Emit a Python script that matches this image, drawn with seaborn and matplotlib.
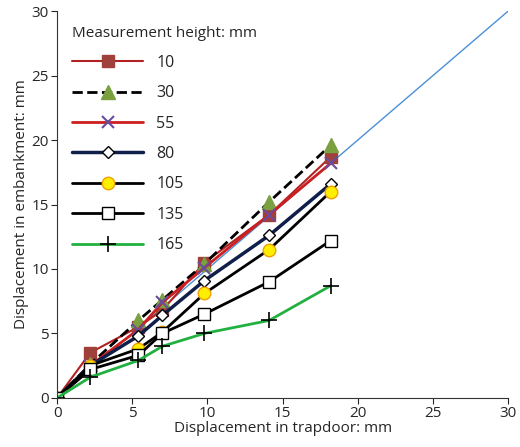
import matplotlib
matplotlib.use("Agg")
import matplotlib.pyplot as plt
import seaborn as sns
import pandas as pd

sns.set_style("white")
plt.rcParams['font.family'] = ['Open Sans', 'DejaVu Sans']

x = [0, 2.2, 5.4, 7.0, 9.8, 14.1, 18.2]
s10 = [0, 3.5, 5.5, 6.8, 10.5, 14.2, 18.7]
s30 = [0, 2.6, 6.0, 7.6, 10.4, 15.2, 19.6]
s55 = [0, 2.5, 5.3, 7.4, 10.1, 14.2, 18.2]
s80 = [0, 2.5, 4.8, 6.4, 9.1, 12.6, 16.6]
s105 = [0, 2.5, 3.8, 5.1, 8.1, 11.5, 16.0]
s135 = [0, 2.2, 3.3, 5.0, 6.5, 9.0, 12.2]
s165 = [0, 1.6, 2.9, 4.0, 5.0, 6.0, 8.7]
labels = ["10", "30", "55", "80", "105", "135", "165"]
ref_x = [0, 30]

series = [s10, s30, s55, s80, s105, s135, s165]
styles = [
    dict(color="#b22222", marker="s", mfc="#a0403a", mec="#a0403a", ms=9, ls="-", lw=1.5),
    dict(color="black", marker="^", mfc="#7aa040", mec="#7aa040", ms=10, ls="--", lw=2),
    dict(color="#cc1f1f", marker="x", mfc="none", mec="#6a4c9c", ms=9, mew=1.5, ls="-", lw=2),
    dict(color="#0f1f4a", marker="D", mfc="white", mec="black", ms=6, ls="-", lw=2.5),
    dict(color="black", marker="o", mfc="#ffee00", mec="#f0a000", ms=9, ls="-", lw=2),
    dict(color="black", marker="s", mfc="white", mec="black", ms=9, ls="-", lw=2),
    dict(color="#22b040", marker="+", mfc="none", mec="black", ms=12, mew=1.2, ls="-", lw=2),
]

fig, ax = plt.subplots(figsize=(5.2, 4.47), dpi=100)
sns.lineplot(x=ref_x, y=ref_x, ax=ax, color="#4a90d9", lw=1, legend=False)
for lab, s, st in zip(labels, series, styles):
    ax.plot(x, s, label=lab, **st)

ax.set_xlim(0, 30)
ax.set_ylim(0, 30)
ax.set_xticks(range(0, 31, 5))
ax.set_yticks(range(0, 31, 5))
ax.tick_params(labelsize=11, direction="out", length=4, left=True, bottom=True, pad=2)
for sp in ["top", "right"]:
    ax.spines[sp].set_visible(False)
for sp in ["left", "bottom"]:
    ax.spines[sp].set_color("#333333")
ax.set_xlabel("Displacement in trapdoor: mm", fontsize=11, labelpad=0)
ax.set_ylabel("Displacement in embankment: mm", fontsize=11, labelpad=2)
leg = ax.legend(title="Measurement height: mm", loc="upper left", frameon=False,
                fontsize=11.5, title_fontsize=11, handlelength=4.5, labelspacing=0.9,
                bbox_to_anchor=(0.0, 1.0))
leg._legend_box.align = "left"
fig.subplots_adjust(left=0.11, right=0.977, top=0.975, bottom=0.11)
fig.savefig("out.png", dpi=100)
